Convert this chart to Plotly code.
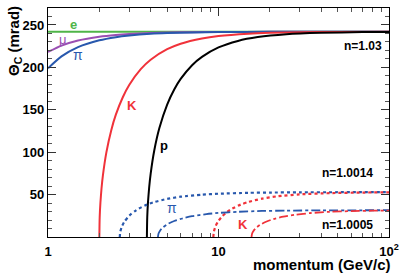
import plotly.graph_objects as go

# ---- data (momentum in GeV/c, Cherenkov angle in mrad) ----
e_p = [1, 100]
e_th = [241.9, 241.9]

mu_p = [1, 1.2, 1.5, 2, 2.5, 3, 4, 5, 7, 10, 20, 50, 100]
mu_th = [218.2, 225.7, 231.7, 236.2, 238.3, 239.4, 240.5, 241.0, 241.5, 241.7, 241.9, 241.9, 241.9]

pi_p = [1, 1.2, 1.5, 2, 2.5, 3, 4, 5, 7, 10, 20, 50, 100]
pi_th = [198.9, 212.9, 223.8, 231.9, 235.6, 237.5, 239.5, 240.4, 241.1, 241.6, 241.9, 241.9, 241.9]

k_p = [2.0006, 2.01, 2.03, 2.06, 2.1, 2.2, 2.35, 2.5, 2.75, 3, 3.5, 4, 5, 6, 8, 10, 15, 20, 30, 50, 100]
k_th = [0, 23.2, 40.7, 57.2, 72.9, 99.8, 126.0, 144.2, 165.1, 179.5, 197.9, 209.0, 221.4, 227.9,
        234.1, 237.0, 239.7, 240.7, 241.4, 241.7, 241.9]

p_p = [3.8021, 3.82, 3.86, 3.92, 4.0, 4.2, 4.5, 5, 5.5, 6, 7, 8, 10, 13, 17, 25, 40, 70, 100]
p_th = [0, 23.2, 41.4, 58.4, 74.5, 102.0, 128.5, 156.2, 174.0, 186.4, 202.6, 212.4, 223.5,
        231.2, 235.7, 239.1, 240.8, 241.6, 241.8]

pi2_p = [2.6367, 2.65, 2.7, 2.8, 3, 3.3, 3.7, 4.2, 5, 6, 8, 10, 15, 20, 30, 50, 100]
pi2_th = [0, 5.3, 11.4, 17.8, 25.2, 31.8, 37.1, 41.2, 44.9, 47.5, 49.9, 51.0, 52.1, 52.4, 52.7, 52.8, 52.9]

k2_p = [9.3269, 9.4, 9.6, 10, 10.5, 11.2, 12, 13.5, 15, 18, 22, 30, 45, 70, 100]
k2_th = [0, 6.6, 12.5, 19.1, 24.3, 29.3, 33.3, 38.2, 41.4, 45.2, 47.9, 50.3, 51.7, 52.4, 52.7]

pi3_p = [4.4131, 4.45, 4.55, 4.7, 5, 5.5, 6.2, 7, 8.5, 10, 13, 18, 25, 40, 70, 100]
pi3_th = [0, 4.1, 7.7, 10.9, 14.9, 18.9, 22.2, 24.5, 27.0, 28.4, 29.7, 30.7, 31.1, 31.4, 31.5, 31.6]

k3_p = [15.6102, 15.75, 16, 16.5, 17.5, 19, 21, 24, 28, 35, 45, 60, 80, 100]
k3_th = [0, 4.2, 6.9, 10.2, 14.3, 18.0, 21.2, 24.0, 26.2, 28.3, 29.7, 30.5, 31.0, 31.2]

y_ticks = [50, 100, 150, 200, 250]
x_ticks = [1, 10, 100]
x_tick_text = ["1", "10", "10<sup>2</sup>"]
x_minor_ticks = [2, 3, 4, 5, 6, 7, 8, 9, 20, 30, 40, 50, 60, 70, 80, 90]

GREEN = "#4fb548"
PURPLE = "#9a4fb2"
BLUE = "#2858ad"
RED = "#f0323a"
BLACK = "#000000"

FONT = "Liberation Sans, Arial, sans-serif"

fig = go.Figure()


def add(x, y, color, dash="solid", width=2.0):
    fig.add_trace(go.Scatter(x=x, y=y, mode="lines",
                             line=dict(color=color, width=width, dash=dash, shape="spline", smoothing=0.6),
                             hoverinfo="skip", showlegend=False))


add(e_p, e_th, GREEN)
add(mu_p, mu_th, PURPLE)
add(pi_p, pi_th, BLUE)
add(k_p, k_th, RED)
add(p_p, p_th, BLACK)
add(pi2_p, pi2_th, BLUE, dash="dot", width=2.2)
add(k2_p, k2_th, RED, dash="dot", width=2.2)
add(pi3_p, pi3_th, BLUE, dash="dashdot", width=1.8)
add(k3_p, k3_th, RED, dash="dashdot", width=1.8)

L, R, T, B = 48, 14, 8, 36
PW, PH = 403 - L - R, 273 - T - B


def px(xp):
    return (xp - L) / PW


def py(yp):
    return (273 - B - yp) / PH


def label(text, x, y, color, size=12, bold=True, xanchor="center"):
    t = f"<b>{text}</b>" if bold else text
    fig.add_annotation(text=t, x=px(x), y=py(y), xref="paper", yref="paper",
                       showarrow=False, xanchor=xanchor, yanchor="middle",
                       font=dict(family=FONT, size=size, color=color))


label("e", 73, 25, GREEN, 13)
label("μ", 63, 39, PURPLE, 13, bold=False)
label("π", 78, 55, BLUE, 14, bold=False)
label("K", 132, 105, RED, 13)
label("p", 164, 145, BLACK, 13)
label("n=1.03", 384, 46, BLACK, 12, xanchor="right")
label("n=1.0014", 375, 173, BLACK, 12, xanchor="right")
label("π", 172, 208, BLUE, 14, bold=False)
label("K", 243, 224, RED, 13)
label("n=1.0005", 375, 225, BLACK, 12, xanchor="right")

# axis titles
fig.add_annotation(text="<b>Θ<sub>C</sub> (mrad)</b>", x=px(15), y=py(4), xref="paper", yref="paper",
                   showarrow=False, textangle=-90, xanchor="center", yanchor="top",
                   font=dict(family=FONT, size=15, color="black"))
fig.add_annotation(text="<b>momentum (GeV/c)</b>", x=px(393), y=py(264.5), xref="paper", yref="paper",
                   showarrow=False, xanchor="right", yanchor="middle",
                   font=dict(family=FONT, size=15, color="black"))

tick_font = dict(family=FONT, size=13, color="black", weight="bold")

fig.update_layout(
    width=403, height=273,
    margin=dict(l=L, r=R, t=T, b=B, autoexpand=False),
    paper_bgcolor="white", plot_bgcolor="white",
    font=dict(family=FONT, color="black"),
    xaxis=dict(type="log", range=[0, 2], tickvals=x_ticks, ticktext=x_tick_text,
               ticks="inside", ticklen=8, tickwidth=1, tickcolor="#333",
               showline=True, linecolor="black", linewidth=1.2, mirror="ticks",
               showgrid=False, zeroline=False, automargin=False,
               ticklabelstandoff=2,
               tickfont=tick_font,
               minor=dict(ticks="inside", ticklen=4, tickvals=x_minor_ticks, tickcolor="#555", showgrid=False)),
    yaxis=dict(range=[0, 270], tickvals=y_ticks,
               ticks="inside", ticklen=8, tickwidth=1, tickcolor="#333",
               showline=True, linecolor="black", linewidth=1.2, mirror="ticks",
               showgrid=False, zeroline=False, automargin=False,
               tickfont=tick_font,
               minor=dict(ticks="inside", ticklen=4, dtick=10, tick0=0, tickcolor="#555", showgrid=False)),
)

fig.write_html("out.html", config={"displayModeBar": False},
               post_script="document.body.style.margin='0px';")
